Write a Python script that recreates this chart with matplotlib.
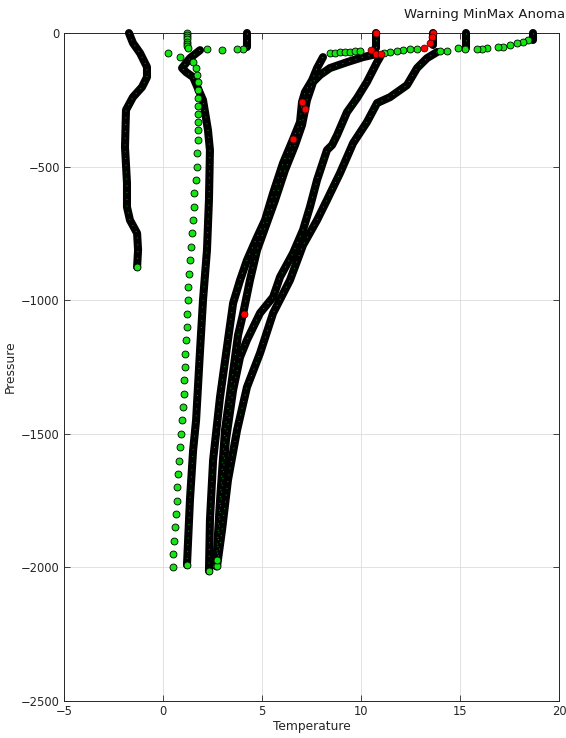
import matplotlib
matplotlib.use("Agg")
import matplotlib.pyplot as plt

# profile A - cold, shallow
a_temp = [-1.72, -1.52, -1.16, -0.81, -0.81, -1.06, -1.52, -1.87, -1.92, -1.82, -1.82, -1.67, -1.31, -1.26, -1.31]
a_pres = [0, -37, -75, -127, -165, -202, -240, -288, -427, -561, -651, -700, -749, -812, -876]

# profile C - surface 4.2
c_top_temp = [4.24, 4.24]
c_top_pres = [0, -52]
c_gap_temp = [4.04, 3.74, 2.98, 2.22]
c_gap_pres = [-60, -60, -64, -60]
c_temp = [1.87, 1.36, 0.96, 1.16, 1.52, 2.02, 2.27, 2.37, 2.32, 2.22, 2.02, 1.87, 1.67, 1.52, 1.36, 1.21]
c_pres = [-64, -94, -131, -146, -165, -251, -363, -438, -624, -812, -999, -1187, -1449, -1561, -1748, -1991]

# profile S - sparse (binned) profile
s_temp = [1.20, 1.20, 1.21, 1.20, 1.19, 1.20, 1.22, 1.25, 0.25, 0.86,
          1.52, 1.67, 1.72, 1.77, 1.77, 1.77, 1.77, 1.77, 1.77, 1.77, 1.77,
          1.72, 1.72, 1.67, 1.57, 1.57, 1.52, 1.46, 1.41, 1.36, 1.31, 1.26, 1.26,
          1.21, 1.21, 1.16, 1.13, 1.10, 1.07, 1.04, 1.00, 0.96, 0.92, 0.88, 0.82,
          0.77, 0.72, 0.69, 0.64, 0.61, 0.56, 0.52, 0.49]
s_pres = [0, -8, -16, -24, -32, -40, -48, -56, -75, -90,
          -108, -131, -157, -183, -213, -243, -273, -303, -333, -363, -400,
          -450, -500, -550, -600, -650, -700, -750, -800, -850, -900, -950, -1000,
          -1050, -1100, -1150, -1200, -1250, -1300, -1350, -1400, -1450, -1500, -1550, -1600,
          -1650, -1700, -1750, -1800, -1850, -1900, -1950, -2000]

# profile W1 - surface 10.7
w1_top_temp = [10.76, 10.76]
w1_top_pres = [0, -56]
w1_gap_temp = [8.43, 8.69, 8.94, 9.19, 9.44, 9.70, 9.95]
w1_gap_pres = [-75, -73, -71, -71, -70, -69, -67]
w1_temp = [8.08, 7.78, 7.53, 7.17, 7.02, 6.92, 6.57, 6.06, 5.56, 5.15, 4.75, 4.24, 3.89, 3.54, 3.23, 2.88, 2.53, 2.37, 2.32]
w1_pres = [-90, -131, -176, -221, -258, -333, -397, -487, -599, -700, -764, -850, -925, -1011, -1175, -1362, -1598, -1823, -2014]

# profile W2 - surface 13.6
w2_top_temp = [13.64, 13.64]
w2_top_pres = [0, -45]
w2_gap_temp = [12.83, 12.47, 12.12, 11.82, 11.46, 11.16]
w2_gap_pres = [-60, -60, -64, -67, -71, -75]
w2_temp = [10.76, 10.10, 9.29, 8.43, 7.93, 7.58, 7.27, 7.02, 6.67, 6.16, 5.66, 5.15, 4.75, 4.39, 4.04, 3.79, 3.48, 3.13, 2.88, 2.68]
w2_pres = [-79, -90, -109, -131, -157, -183, -251, -344, -419, -513, -625, -730, -812, -925, -1052, -1130, -1299, -1486, -1748, -1995]

# profile W3 - surface 15.3
w3_top_temp = [15.30, 15.30]
w3_top_pres = [0, -56]
w3_gap_temp = [15.25, 14.90, 14.34, 13.99]
w3_gap_pres = [-60, -56, -67, -67]
w3_temp = [13.84, 13.33, 12.83, 12.32, 11.46, 10.81, 10.30, 9.60, 8.94, 8.28, 7.78, 7.07, 6.41, 5.56, 4.90, 4.24, 3.74, 3.28, 2.98, 2.73]
w3_pres = [-71, -94, -131, -195, -240, -262, -333, -412, -524, -625, -700, -794, -925, -1048, -1198, -1325, -1486, -1673, -1860, -1995]

# profile W4 - surface 18.7
w4_top_temp = [18.69, 18.69]
w4_top_pres = [0, -26]
w4_gap_temp = [18.43, 18.18, 17.88, 17.53, 17.17, 16.92, 16.36, 16.11, 15.86]
w4_gap_pres = [-26, -34, -37, -45, -52, -52, -56, -60, -60]
w4_temp = [10.96, 10.81, 10.30, 9.80, 9.29, 8.79, 8.54, 8.28, 7.78, 7.42, 7.07, 6.57, 5.91, 5.56, 4.90, 4.24, 3.89, 3.54, 3.18, 2.93, 2.73]
w4_pres = [-90, -109, -183, -243, -296, -382, -419, -438, -550, -651, -737, -823, -913, -988, -1048, -1149, -1213, -1336, -1523, -1748, -1973]

# flagged points (red)
flag_temp = [10.76, 10.51, 10.76, 11.01, 13.64, 13.59, 13.48, 13.18, 7.02, 7.17, 6.57, 4.09]
flag_pres = [0, -64, -79, -79, 0, -15, -37, -56, -258, -284, -397, -1052]

dense = [(a_temp, a_pres), (c_top_temp, c_top_pres), (c_temp, c_pres),
         (w1_top_temp, w1_top_pres), (w1_temp, w1_pres),
         (w2_top_temp, w2_top_pres), (w2_temp, w2_pres),
         (w3_top_temp, w3_top_pres), (w3_temp, w3_pres),
         (w4_top_temp, w4_top_pres), (w4_temp, w4_pres)]
sparse = [(c_gap_temp, c_gap_pres), (s_temp, s_pres), (w1_gap_temp, w1_gap_pres),
          (w2_gap_temp, w2_gap_pres), (w3_gap_temp, w3_gap_pres), (w4_gap_temp, w4_gap_pres)]
bottoms = [(a_temp, a_pres), (c_temp, c_pres), (w1_temp, w1_pres), (w2_temp, w2_pres),
           (w3_temp, w3_pres), (w4_temp, w4_pres)]

green = '#14e614'

fig = plt.figure(figsize=(5.66, 7.38), dpi=100)
ax = fig.add_axes([0.1131, 0.0501, 0.8746, 0.9051])

# dense profiles: overlapping markers read as a thick black band
for t, p in dense:
    ax.plot(t, p, color='k', lw=5.8, solid_capstyle='round', solid_joinstyle='round', clip_on=False, zorder=3)
    ax.plot(t, p, color='#0c9a0c', lw=0.7, ls=(0, (1, 6)), clip_on=False, zorder=3.5)

for t, p in sparse:
    ax.plot(t, p, ls='none', marker='o', ms=5, mfc=green, mec='k', mew=0.6, clip_on=False, zorder=4)

for t, p in bottoms:
    ax.plot(t[-1], p[-1], ls='none', marker='o', ms=5, mfc=green, mec='k', mew=0.6, clip_on=False, zorder=4)

ax.plot(flag_temp, flag_pres, ls='none', marker='o', ms=5, mfc='#ff0000', mec='#3a0000', mew=0.5, clip_on=False, zorder=5)

ax.set_xlim(-5, 20)
ax.set_ylim(-2500, 0)
ax.set_xticks([-5, 0, 5, 10, 15, 20])
ax.set_yticks([-2500, -2000, -1500, -1000, -500, 0])
ax.grid(True, color='#dcdcdc', lw=0.6)
ax.set_axisbelow(True)
ax.tick_params(direction='in', length=4, width=0.6, colors='#262626', labelsize=8.3,
               top=True, right=True, pad=3)
for s in ax.spines.values():
    s.set_color('#262626')
    s.set_linewidth(0.7)
ax.set_xlabel('Temperature', fontsize=8.8, color='#262626', labelpad=1)
ax.set_ylabel('Pressure', fontsize=8.8, color='#262626', labelpad=3)

fig.text(0.998, 0.981, 'Warning MinMax Anoma', fontsize=9.5, color='#1a1a1a', ha='right', va='center')

fig.savefig('out.png', dpi=100)
